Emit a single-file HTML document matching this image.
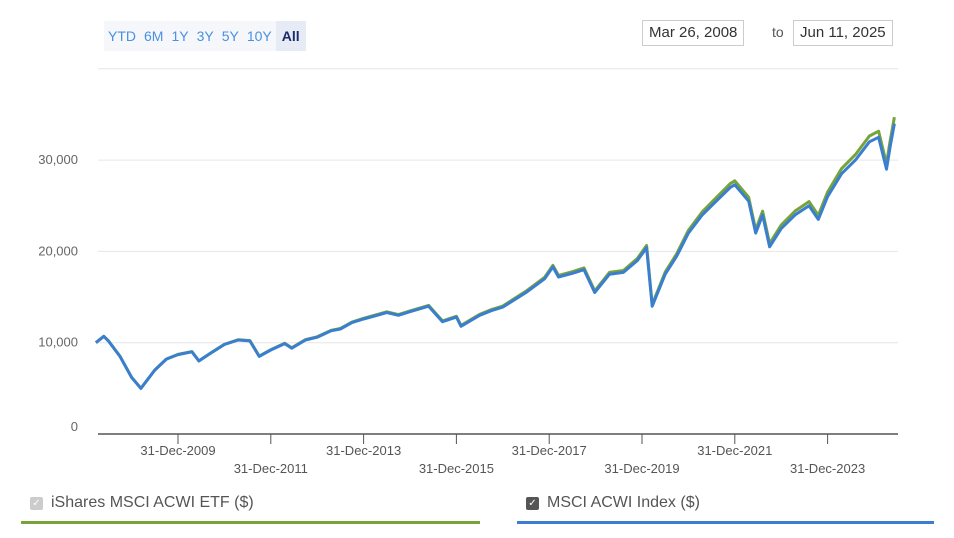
<!DOCTYPE html>
<html><head><meta charset="utf-8"><style>
body{margin:0;width:954px;height:538px;background:#fff;font-family:"Liberation Sans",sans-serif;overflow:hidden;position:relative}
.btns{position:absolute;left:104px;top:21px;display:flex;background:#f5f7fa;height:30px}
.btns div{padding:0 4px;line-height:30px;font-size:14px;color:#4a90e2}
.btns div.on{background:#e6ebf5;color:#1a2a6c;font-weight:bold;padding:0 6px}
.date{position:absolute;top:20px;height:24px;border:1px solid #ccc;font-size:15px;line-height:24px;padding:0 6px;color:#333}
.to{position:absolute;top:24px;left:772px;font-size:14px;color:#555}
.leg{position:absolute;top:494px;font-size:16px;color:#555;display:flex;align-items:center}
.cb{width:13px;height:13px;border-radius:2px;margin-right:8px;display:inline-block;color:#fff;font-size:10px;line-height:13px;text-align:center}
</style></head><body>
<div class="btns">
<div>YTD</div><div>6M</div><div>1Y</div><div>3Y</div><div>5Y</div><div>10Y</div><div class="on">All</div>
</div>
<div class="date" style="left:642px">Mar 26, 2008</div>
<div class="to">to</div>
<div class="date" style="left:793px">Jun 11, 2025</div>
<svg id="chart" width="954" height="538" style="position:absolute;left:0;top:0"></svg>
<div class="leg" style="left:30px"><span class="cb" style="background:#ccc">✓</span>iShares MSCI ACWI ETF ($)</div>
<div style="position:absolute;left:21px;top:521px;width:459px;height:3px;background:#76a33a"></div>
<div class="leg" style="left:526px"><span class="cb" style="background:#555">✓</span>MSCI ACWI Index ($)</div>
<div style="position:absolute;left:517px;top:521px;width:417px;height:3px;background:#3a7fcf"></div>
<script>
const dates=[2008.23,2008.4,2008.5,2008.75,2009.0,2009.2,2009.5,2009.75,2010.0,2010.3,2010.45,2010.75,2011.0,2011.3,2011.55,2011.75,2012.0,2012.3,2012.45,2012.75,2013.0,2013.3,2013.5,2013.75,2014.0,2014.5,2014.75,2015.0,2015.4,2015.7,2016.0,2016.1,2016.5,2016.75,2017.0,2017.5,2017.9,2018.08,2018.2,2018.5,2018.75,2018.98,2019.3,2019.6,2019.9,2020.1,2020.22,2020.5,2020.75,2021.0,2021.3,2021.6,2021.9,2022.0,2022.3,2022.45,2022.6,2022.75,2023.0,2023.3,2023.6,2023.8,2024.0,2024.3,2024.6,2024.9,2025.1,2025.27,2025.35,2025.44];
const indexVals=[10000,10700,10200,8500,6200,5000,7000,8200,8700,9000,8000,9000,9800,10300,10200,8500,9200,9900,9400,10300,10600,11300,11500,12200,12600,13300,13000,13400,14000,12300,12800,11800,13000,13500,13900,15500,17000,18300,17200,17600,18000,15500,17500,17700,19000,20400,14000,17500,19500,22000,24000,25500,27000,27300,25500,22000,24000,20500,22500,24000,25000,23500,26000,28500,30000,32000,32500,29000,31500,34000];
const etfVals=[10000,10700,10210,8510,6210,5010,7010,8220,8720,9020,8020,9020,9830,10330,10230,8530,9230,9940,9440,10340,10650,11350,11560,12260,12670,13380,13080,13480,14090,12390,12890,11890,13100,13610,14020,15640,17160,18480,17370,17780,18190,15670,17700,17910,19230,20650,14180,17730,19760,22300,24340,25880,27420,27730,25910,22360,24400,20850,22890,24430,25460,23940,26500,29060,30600,32640,33170,29600,32150,34700];
const yTicks=[0,10000,20000,30000];
const xTickYears=[2010,2012,2014,2016,2018,2020,2022,2024];
const xLabels=["31-Dec-2009","31-Dec-2011","31-Dec-2013","31-Dec-2015","31-Dec-2017","31-Dec-2019","31-Dec-2021","31-Dec-2023"];
const svg=document.getElementById('chart');const NS="http://www.w3.org/2000/svg";
const X=t=>178+(t-2010)*46.4;const Y=v=>434-v*0.00913;
function mk(tag,attrs){const e=document.createElementNS(NS,tag);for(const k in attrs)e.setAttribute(k,attrs[k]);svg.appendChild(e);return e;}
[...yTicks,40000].forEach((v,i)=>{if(v>0){const g=mk('line',{x1:98,x2:898,y1:Y(v),y2:Y(v),stroke:'#e6e6e6'});

}
if(i<yTicks.length){const t=mk('text',{x:78,y:(v===0?Y(v)-3:Y(v)+4),'text-anchor':'end','font-size':13,fill:'#666','font-family':'Liberation Sans'});t.textContent=v.toLocaleString('en-US');

}});
const ax=mk('line',{x1:98,x2:898,y1:434,y2:434,stroke:'#555','stroke-width':1.5});


xTickYears.forEach((yr,i)=>{const x=X(yr);const tk=mk('line',{x1:x,x2:x,y1:434,y2:444,stroke:'#555'});


const t=mk('text',{x:x,y:i%2?473:455,'text-anchor':'middle','font-size':13,fill:'#555','font-family':'Liberation Sans Narrow, Liberation Sans'});t.textContent=xLabels[i];

});
function line(vals,color,name){const d=vals.map((v,i)=>(i?'L':'M')+X(dates[i]).toFixed(1)+','+Y(v).toFixed(1)).join('');
const p=mk('path',{d:d,fill:'none',stroke:color,'stroke-width':3,'stroke-linejoin':'round'});

}
line(etfVals,'#76a33a','etf-line');line(indexVals,'#3a7fcf','index-line');
</script>
</body></html>
